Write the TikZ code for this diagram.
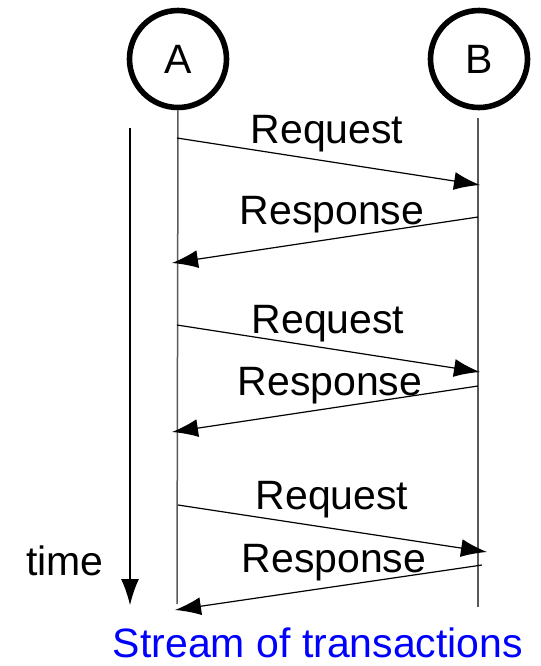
\documentclass[tikz,border=0pt]{standalone}
\usepackage{fontspec}
\setmainfont{Liberation Sans}
\usepackage{tikz}
\usetikzlibrary{arrows.meta}

\tikzset{
    party/.style={circle, draw, line width=2.8pt, minimum size=48.5pt, inner sep=0pt},
    lifeline/.style={draw=black!65, line width=0.75pt},
    msg/.style={-{Latex[length=13pt, width=9pt]}, line width=0.6pt},
    msglabel/.style={anchor=base, inner sep=0pt},
}

\begin{document}
\begin{tikzpicture}[x=0.5pt, y=-0.5pt, every node/.style={font=\fontsize{20.5}{24}\selectfont}]
    \useasboundingbox (0,0) rectangle (541,666);

    % the two parties
    \node[party] (A) at (178,59) {A};
    \node[party] (B) at (479,59) {B};

    % lifelines
    \coordinate (Aend) at (177,604);
    \coordinate (Bstart) at (478,118);
    \coordinate (Bend) at (478,607);
    \draw[lifeline] (A.south) -- (Aend);
    \draw[lifeline] (Bstart) -- (Bend);

    % time axis
    \coordinate (t0) at (130,128);
    \coordinate (t1) at (130,605);
    \draw[msg] (t0) -- (t1);
    \node[msglabel] (time) at (65,575) {time};

    % first transaction
    \coordinate (a1) at (177,138);
    \coordinate (b1) at (480,185);
    \coordinate (b2) at (478,217);
    \coordinate (a2) at (172,263);
    \draw[msg] (a1) -- (b1);
    \draw[msg] (b2) -- (a2);
    \node[msglabel] (req1) at (327,143) {Request};
    \node[msglabel] (resp1) at (332,224) {Response};

    % second transaction
    \coordinate (a3) at (177,325);
    \coordinate (b3) at (480,372);
    \coordinate (b4) at (478,386);
    \coordinate (a4) at (172,432);
    \draw[msg] (a3) -- (b3);
    \draw[msg] (b4) -- (a4);
    \node[msglabel] (req2) at (328,333) {Request};
    \node[msglabel] (resp2) at (330,395) {Response};

    % third transaction
    \coordinate (a5) at (178,505);
    \coordinate (b5) at (487,552);
    \coordinate (b6) at (482,565);
    \coordinate (a6) at (175,610);
    \draw[msg] (a5) -- (b5);
    \draw[msg] (b6) -- (a6);
    \node[msglabel] (req3) at (332,509) {Request};
    \node[msglabel] (resp3) at (334,572) {Response};

    % caption
    \node[msglabel, text=blue] (caption) at (318,657) {Stream of transactions};
\end{tikzpicture}
\end{document}
